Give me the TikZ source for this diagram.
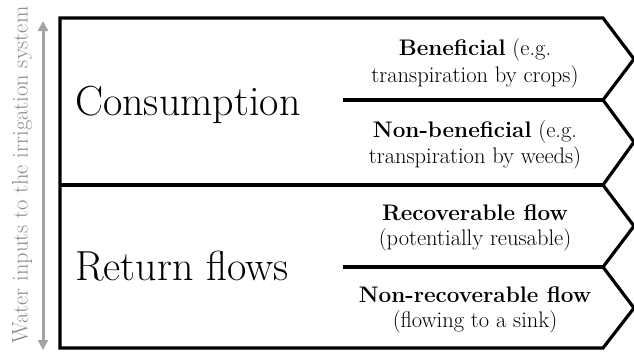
\documentclass[tikz,border=0pt]{standalone}
\usetikzlibrary{arrows.meta}
\definecolor{sidegray}{HTML}{8C8C8C}
\definecolor{arrowgray}{HTML}{A3A3A3}
\tikzset{
  frame/.style={line width=3.2pt, line join=miter, black},
  bigtext/.style={anchor=base west, inner sep=0pt, font=\fontsize{42}{44}\selectfont},
  smalltext/.style={anchor=base, inner sep=0pt, font=\fontsize{22.5}{26}\selectfont},
  sidetext/.style={inner sep=0pt, text=sidegray, rotate=90, font=\fontsize{22.5}{26}\selectfont},
  sidearrow/.style={line width=3pt, arrowgray, {Triangle[length=10pt,width=10pt]}-{Triangle[length=10pt,width=10pt]}}
}
\begin{document}
\begin{tikzpicture}[x=1pt,y=-1pt]
\useasboundingbox (0,0) rectangle (634,351);
% outer frame with chevrons
\draw[frame] (60,18) -- (603,18) -- (634,59) -- (603,100) -- (634,142)
  -- (603,185) -- (634,226) -- (603,267) -- (634,308) -- (603,348)
  -- (60,348) -- cycle;
% dividers
\coordinate (d1a) at (343,100); \coordinate (d1b) at (603,100);
\coordinate (d2a) at (60,185);  \coordinate (d2b) at (603,185);
\coordinate (d3a) at (343,267); \coordinate (d3b) at (603,267);
\draw[frame] (d1a) -- (d1b);
\draw[frame] (d2a) -- (d2b);
\draw[frame] (d3a) -- (d3b);
% big labels
\node[bigtext] (cons) at (75,115) {Consumption};
\node[bigtext] (ret) at (75,280) {Return flows};
% small labels
\node[smalltext] (b1) at (475,55) {\textbf{Beneficial} (e.g.};
\node[smalltext] (b2) at (475,82) {transpiration by crops)};
\node[smalltext] (n1) at (475,137) {\textbf{Non-beneficial} (e.g.};
\node[smalltext] (n2) at (475,163) {transpiration by weeds)};
\node[smalltext] (r1) at (475,220) {\textbf{Recoverable flow}};
\node[smalltext] (r2) at (475,245) {(potentially reusable)};
\node[smalltext] (s1) at (475,302) {\textbf{Non-recoverable flow}};
\node[smalltext] (s2) at (475,327) {(flowing to a sink)};
% side arrow and text
\coordinate (at) at (43,21);
\coordinate (ab) at (43,350);
\draw[sidearrow] (ab) -- (at);
\node[sidetext] (side) at (22,175) {Water inputs to the irrigation system};
\end{tikzpicture}
\end{document}
